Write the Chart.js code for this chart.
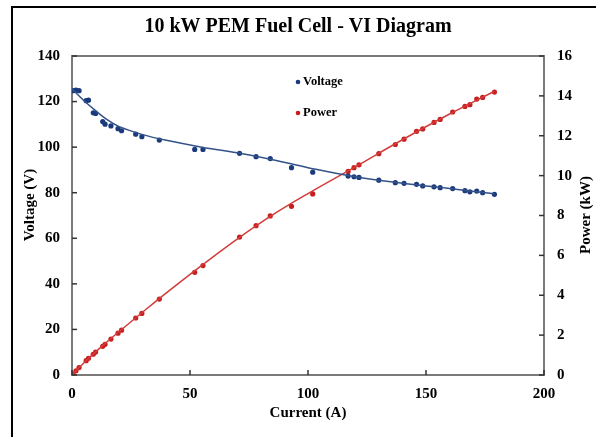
<!DOCTYPE html>
<html>
<head>
<meta charset="utf-8">
<script src="https://cdn.jsdelivr.net/npm/chart.js@4/dist/chart.umd.min.js"></script>
<style>
  html, body { margin: 0; padding: 0; background: #fff; }
  #wrap { position: relative; width: 596px; height: 437px; overflow: hidden; }
  #c { position: absolute; left: 0; top: 0; }
  #frame { position: absolute; left: 11px; top: 6px; width: 700px; height: 600px;
           border-left: 2px solid #000; border-top: 2px solid #000; pointer-events: none; }
</style>
</head>
<body>
<div id="wrap">
  <canvas id="c" width="596" height="437"></canvas>
  <div id="frame"></div>
</div>
<script>
// ---- Data ----
const current = [0.4, 1.7, 3, 6, 7, 9, 10, 13, 14, 16.5, 19.5, 21, 27, 29.6, 37, 52, 55.5, 71, 78, 84,
                 93, 102, 117, 119.5, 121.6, 130, 137, 140.7, 146, 148.6, 153.4, 156, 161.3, 166.5, 168.6, 171.5, 174, 179];
const voltage = [124.8, 125, 124.8, 120.4, 120.6, 115.1, 114.8, 111.2, 110.1, 109.3, 108.1, 107.2, 105.7, 104.6, 103.1, 99, 99, 97.3, 95.8, 95,
                 91, 89, 87.3, 87, 86.7, 85.5, 84.4, 84.1, 83.7, 83, 82.6, 82.2, 81.8, 80.9, 80.4, 80.7, 80, 79.3];
const power = [0.05, 0.21, 0.37, 0.72, 0.84, 1.04, 1.15, 1.44, 1.54, 1.8, 2.1, 2.25, 2.86, 3.09, 3.81, 5.15, 5.49, 6.92, 7.49, 7.98,
               8.46, 9.08, 10.21, 10.4, 10.54, 11.1, 11.56, 11.83, 12.22, 12.34, 12.67, 12.82, 13.19, 13.47, 13.56, 13.84, 13.92, 14.19];
// Fitted trend lines
const fitCurrent = [0, 5, 10, 15, 20, 30, 40, 55, 70, 85, 100, 120, 140, 160, 179];
const voltageFit = [125.5, 120.5, 116, 112, 109, 105.5, 103, 100, 97.5, 94.5, 91, 87, 84.2, 81.8, 79.5];
const powerFit   = [0, 0.6, 1.16, 1.68, 2.18, 3.16, 4.12, 5.5, 6.82, 8.03, 9.1, 10.44, 11.8, 13.09, 14.23];
const xTicks = [0, 50, 100, 150, 200];
const yTicks = [0, 20, 40, 60, 80, 100, 120, 140];
const y1Ticks = [0, 2, 4, 6, 8, 10, 12, 14, 16];
const labels = { title: '10 kW PEM Fuel Cell - VI Diagram', x: 'Current (A)', y: 'Voltage (V)', y1: 'Power (kW)',
                 s1: 'Voltage', s2: 'Power' };

const pts = (xs, ys) => xs.map((x, i) => ({ x: x, y: ys[i] }));
const SERIF = '"Liberation Serif", "Times New Roman", serif';
const VCOL = '#1b3a7c', VLINE = '#34528a', PCOL = '#c81e1e', PLINE = '#d23c3c', AX = '#7a7a7a';

const deco = {
  id: 'deco',
  afterDraw(chart) {
    const ctx = chart.ctx, a = chart.chartArea;
    const sx = chart.scales.x, sy = chart.scales.y, sy1 = chart.scales.y1;
    ctx.save();
    ctx.strokeStyle = AX; ctx.lineWidth = 2;
    // top border of plot area
    ctx.beginPath(); ctx.moveTo(a.left - 1, a.top); ctx.lineTo(a.right + 1, a.top); ctx.stroke();
    ctx.lineWidth = 1.5; ctx.strokeStyle = '#333';
    // inward tick marks
    xTicks.forEach(v => { const p = sx.getPixelForValue(v); ctx.beginPath(); ctx.moveTo(p, a.bottom); ctx.lineTo(p, a.bottom - 5); ctx.stroke(); });
    yTicks.forEach(v => { const p = sy.getPixelForValue(v); ctx.beginPath(); ctx.moveTo(a.left, p); ctx.lineTo(a.left + 5, p); ctx.stroke(); });
    y1Ticks.forEach(v => { const p = sy1.getPixelForValue(v); ctx.beginPath(); ctx.moveTo(a.right, p); ctx.lineTo(a.right - 5, p); ctx.stroke(); });
    // axis titles
    ctx.fillStyle = '#000';
    ctx.font = 'bold 15px ' + SERIF;
    ctx.textAlign = 'center'; ctx.textBaseline = 'middle';
    ctx.fillText(labels.x, (a.left + a.right) / 2, 413);
    ctx.save(); ctx.translate(30, 205); ctx.rotate(-Math.PI / 2); ctx.fillText(labels.y, 0, 0); ctx.restore();
    ctx.save(); ctx.translate(586, 215); ctx.rotate(-Math.PI / 2); ctx.fillText(labels.y1, 0, 0); ctx.restore();
    // legend inside plot
    ctx.font = 'bold 12.5px ' + SERIF;
    ctx.textAlign = 'left';
    ctx.fillStyle = VCOL; ctx.beginPath(); ctx.arc(298, 82, 2.3, 0, Math.PI * 2); ctx.fill();
    ctx.fillStyle = '#000'; ctx.fillText(labels.s1, 303, 82);
    ctx.fillStyle = PCOL; ctx.beginPath(); ctx.arc(298, 113, 2.3, 0, Math.PI * 2); ctx.fill();
    ctx.fillStyle = '#000'; ctx.fillText(labels.s2, 303, 113);
    ctx.restore();
  }
};

const tickFont = { family: SERIF, size: 15, weight: 'bold' };

new Chart(document.getElementById('c'), {
  type: 'scatter',
  data: {
    datasets: [
      { label: 'Voltage fit', type: 'line', data: pts(fitCurrent, voltageFit), yAxisID: 'y', borderColor: VLINE, borderWidth: 1.5,
        pointRadius: 0, tension: 0.4, fill: false },
      { label: 'Power fit', type: 'line', data: pts(fitCurrent, powerFit), yAxisID: 'y1', borderColor: PLINE, borderWidth: 1.5,
        pointRadius: 0, tension: 0.4, fill: false },
      { label: labels.s1, data: pts(current, voltage), yAxisID: 'y', backgroundColor: VCOL, borderColor: VCOL, pointRadius: 2.6, borderWidth: 0 },
      { label: labels.s2, data: pts(current, power), yAxisID: 'y1', backgroundColor: PCOL, borderColor: PCOL, pointRadius: 2.6, borderWidth: 0 }
    ]
  },
  options: {
    responsive: false, animation: false, devicePixelRatio: 1,
    layout: { padding: 0 },
    plugins: {
      legend: { display: false }, tooltip: { enabled: false },
      title: { display: true, text: labels.title, color: '#000', font: { family: SERIF, size: 20, weight: 'bold', lineHeight: 1.2 },
               padding: { top: 15, bottom: 17 } }
    },
    scales: {
      x: { type: 'linear', min: 0, max: 200, afterFit: s => { s.height = 62; },
           afterBuildTicks: s => { s.ticks = xTicks.map(v => ({ value: v })); },
           ticks: { font: tickFont, color: '#000', padding: 10, maxRotation: 0 },
           grid: { display: false, drawTicks: false }, border: { display: true, color: AX, width: 2 } },
      y: { type: 'linear', position: 'left', min: 0, max: 140, afterFit: s => { s.width = 72; },
           afterBuildTicks: s => { s.ticks = yTicks.map(v => ({ value: v })); },
           ticks: { font: tickFont, color: '#000', padding: 12 },
           grid: { display: false, drawTicks: false }, border: { display: true, color: AX, width: 2 } },
      y1: { type: 'linear', position: 'right', min: 0, max: 16, afterFit: s => { s.width = 52; },
           afterBuildTicks: s => { s.ticks = y1Ticks.map(v => ({ value: v })); },
           ticks: { font: tickFont, color: '#000', padding: 13 },
           grid: { display: false, drawTicks: false }, border: { display: true, color: AX, width: 2 } }
    }
  },
  plugins: [deco]
});
</script>
</body>
</html>
